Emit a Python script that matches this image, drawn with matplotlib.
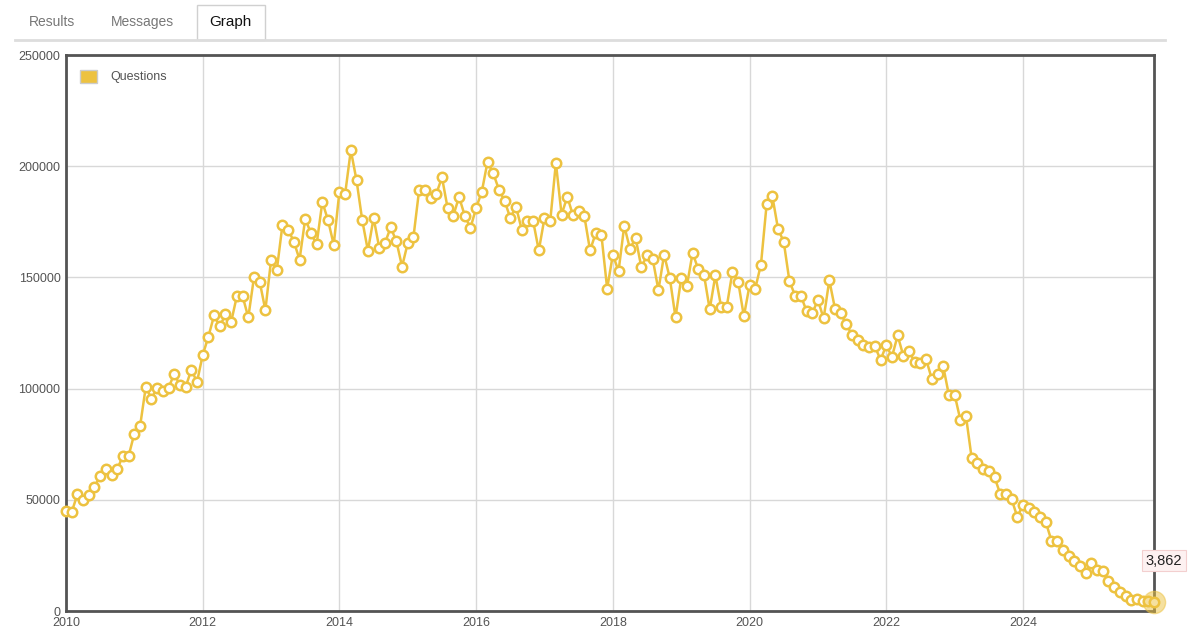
import matplotlib.pyplot as plt
from matplotlib.patches import Rectangle
from matplotlib.lines import Line2D

plt.rcParams['font.family'] = ['Liberation Sans', 'DejaVu Sans']

# monthly question counts, 2010-01 .. 2025-12
questions = [
    45000, 44500, 52400, 50000, 52100, 55700, 60800, 63800, 61100, 63800, 69800, 69800,          # 2010
    79800, 83000, 100700, 95500, 100300, 98900, 100300, 106700, 101500, 100700, 108500, 103000,  # 2011
    115100, 123400, 132900, 128000, 133400, 130100, 141600, 141600, 132000, 150000, 148100, 135300,  # 2012
    157800, 153200, 173600, 171500, 166100, 158000, 176400, 169800, 165000, 183900, 175700, 164700,  # 2013
    188600, 187500, 207200, 193700, 175800, 162000, 176700, 163200, 165500, 172500, 166200, 154900,  # 2014
    165500, 168200, 189500, 189500, 185600, 187500, 195000, 181100, 177800, 186200, 177800, 172200,  # 2015
    181200, 188600, 202000, 196800, 189500, 184400, 176700, 181800, 171500, 175400, 175400, 162100,  # 2016
    176700, 175200, 201500, 178200, 186300, 177900, 180000, 177500, 162100, 170000, 168900, 145000,  # 2017
    160200, 152800, 173200, 162900, 167700, 154600, 159900, 158200, 144300, 160200, 149700, 132000,  # 2018
    149600, 146200, 161000, 153600, 151200, 135600, 150900, 136900, 136900, 152600, 148100, 132500,  # 2019
    146500, 145000, 155800, 183000, 186500, 171800, 166000, 148300, 141800, 141800, 134900, 133900,  # 2020
    139800, 131600, 148700, 135900, 133800, 128900, 124000, 122000, 119800, 118800, 119000, 112900,  # 2021
    119500, 114300, 123900, 114700, 116800, 112000, 111300, 113200, 104200, 106700, 110000, 97000,   # 2022
    97300, 86000, 87500, 68600, 66700, 63700, 62800, 60200, 52700, 52700, 50300, 42300,              # 2023
    47700, 46200, 44700, 42400, 40000, 31600, 31400, 27300, 24600, 22400, 20200, 17300,              # 2024
    21700, 18400, 18200, 13500, 11000, 8700, 6900, 5100, 5500, 4700, 4300, 3862,                    # 2025
]
start_year = 2010
x_ticks = [2010, 2012, 2014, 2016, 2018, 2020, 2022, 2024]
y_ticks = [0, 50000, 100000, 150000, 200000, 250000]
tabs = ['Results', 'Messages', 'Graph']
series_name = 'Questions'

color = '#edc240'
months = [start_year + i / 12 for i in range(len(questions))]

fig = plt.figure(figsize=(12, 6.39), dpi=100)

# tab strip
fig.text(52 / 1200, 1 - 22 / 639, tabs[0], fontsize=10, color='#777777', ha='center', va='center')
fig.text(142 / 1200, 1 - 22 / 639, tabs[1], fontsize=10, color='#777777', ha='center', va='center')
fig.patches.append(Rectangle((197 / 1200, 1 - 40 / 639), 68 / 1200, 35 / 639, transform=fig.transFigure,
                             facecolor='white', edgecolor='#d0d0d0', linewidth=1))
fig.text(230 / 1200, 1 - 22 / 639, tabs[2], fontsize=11, color='#111111', ha='center', va='center')
fig.lines.append(Line2D([15 / 1200, 1165 / 1200], [1 - 40 / 639, 1 - 40 / 639], transform=fig.transFigure,
                        color='#dddddd', linewidth=2))

ax = fig.add_axes([66 / 1200, 1 - 611 / 639, 1088 / 1200, 556 / 639])
ax.plot(months, questions, color=color, linewidth=1.8, zorder=3)
ax.plot(months, questions, linestyle='none', marker='o', markersize=6.8,
        markerfacecolor='white', markeredgecolor=color, markeredgewidth=1.8, zorder=4, clip_on=False)

# highlighted last point
ax.plot(months[-1], questions[-1], 'o', markersize=16, color=color, alpha=0.5, zorder=5, clip_on=False)
ax.annotate(f'{questions[-1]:,}', xy=(months[-1], questions[-1]), xytext=(-6, 30), textcoords='offset points',
            fontsize=10.5, color='#222222', ha='left', va='center',
            bbox=dict(boxstyle='square,pad=0.25', facecolor='#fdf1f1', edgecolor='#f3cfcf', linewidth=0.8),
            annotation_clip=False, zorder=6)

ax.set_xlim(start_year, months[-1])
ax.set_ylim(0, 250000)
ax.set_xticks(x_ticks)
ax.set_yticks(y_ticks)
ax.set_xticklabels([str(t) for t in x_ticks])
ax.set_yticklabels([str(t) for t in y_ticks])
ax.tick_params(length=0, labelsize=9, labelcolor='#545454', pad=4)
ax.grid(True, color='#d8d8d8', linewidth=1)
ax.set_axisbelow(True)
for s in ax.spines.values():
    s.set_color('#545454')
    s.set_linewidth(2)
    s.set_zorder(2)

# legend box
ax.add_patch(Rectangle((14 / 1088, 1 - 28 / 556), 17 / 1088, 13 / 556, transform=ax.transAxes,
                       facecolor=color, edgecolor='#cccccc', linewidth=1, zorder=5))
ax.text(44 / 1088, 1 - 22 / 556, series_name, transform=ax.transAxes, fontsize=9, color='#545454',
        va='center', ha='left', zorder=5)

plt.savefig('out.png', dpi=100)
